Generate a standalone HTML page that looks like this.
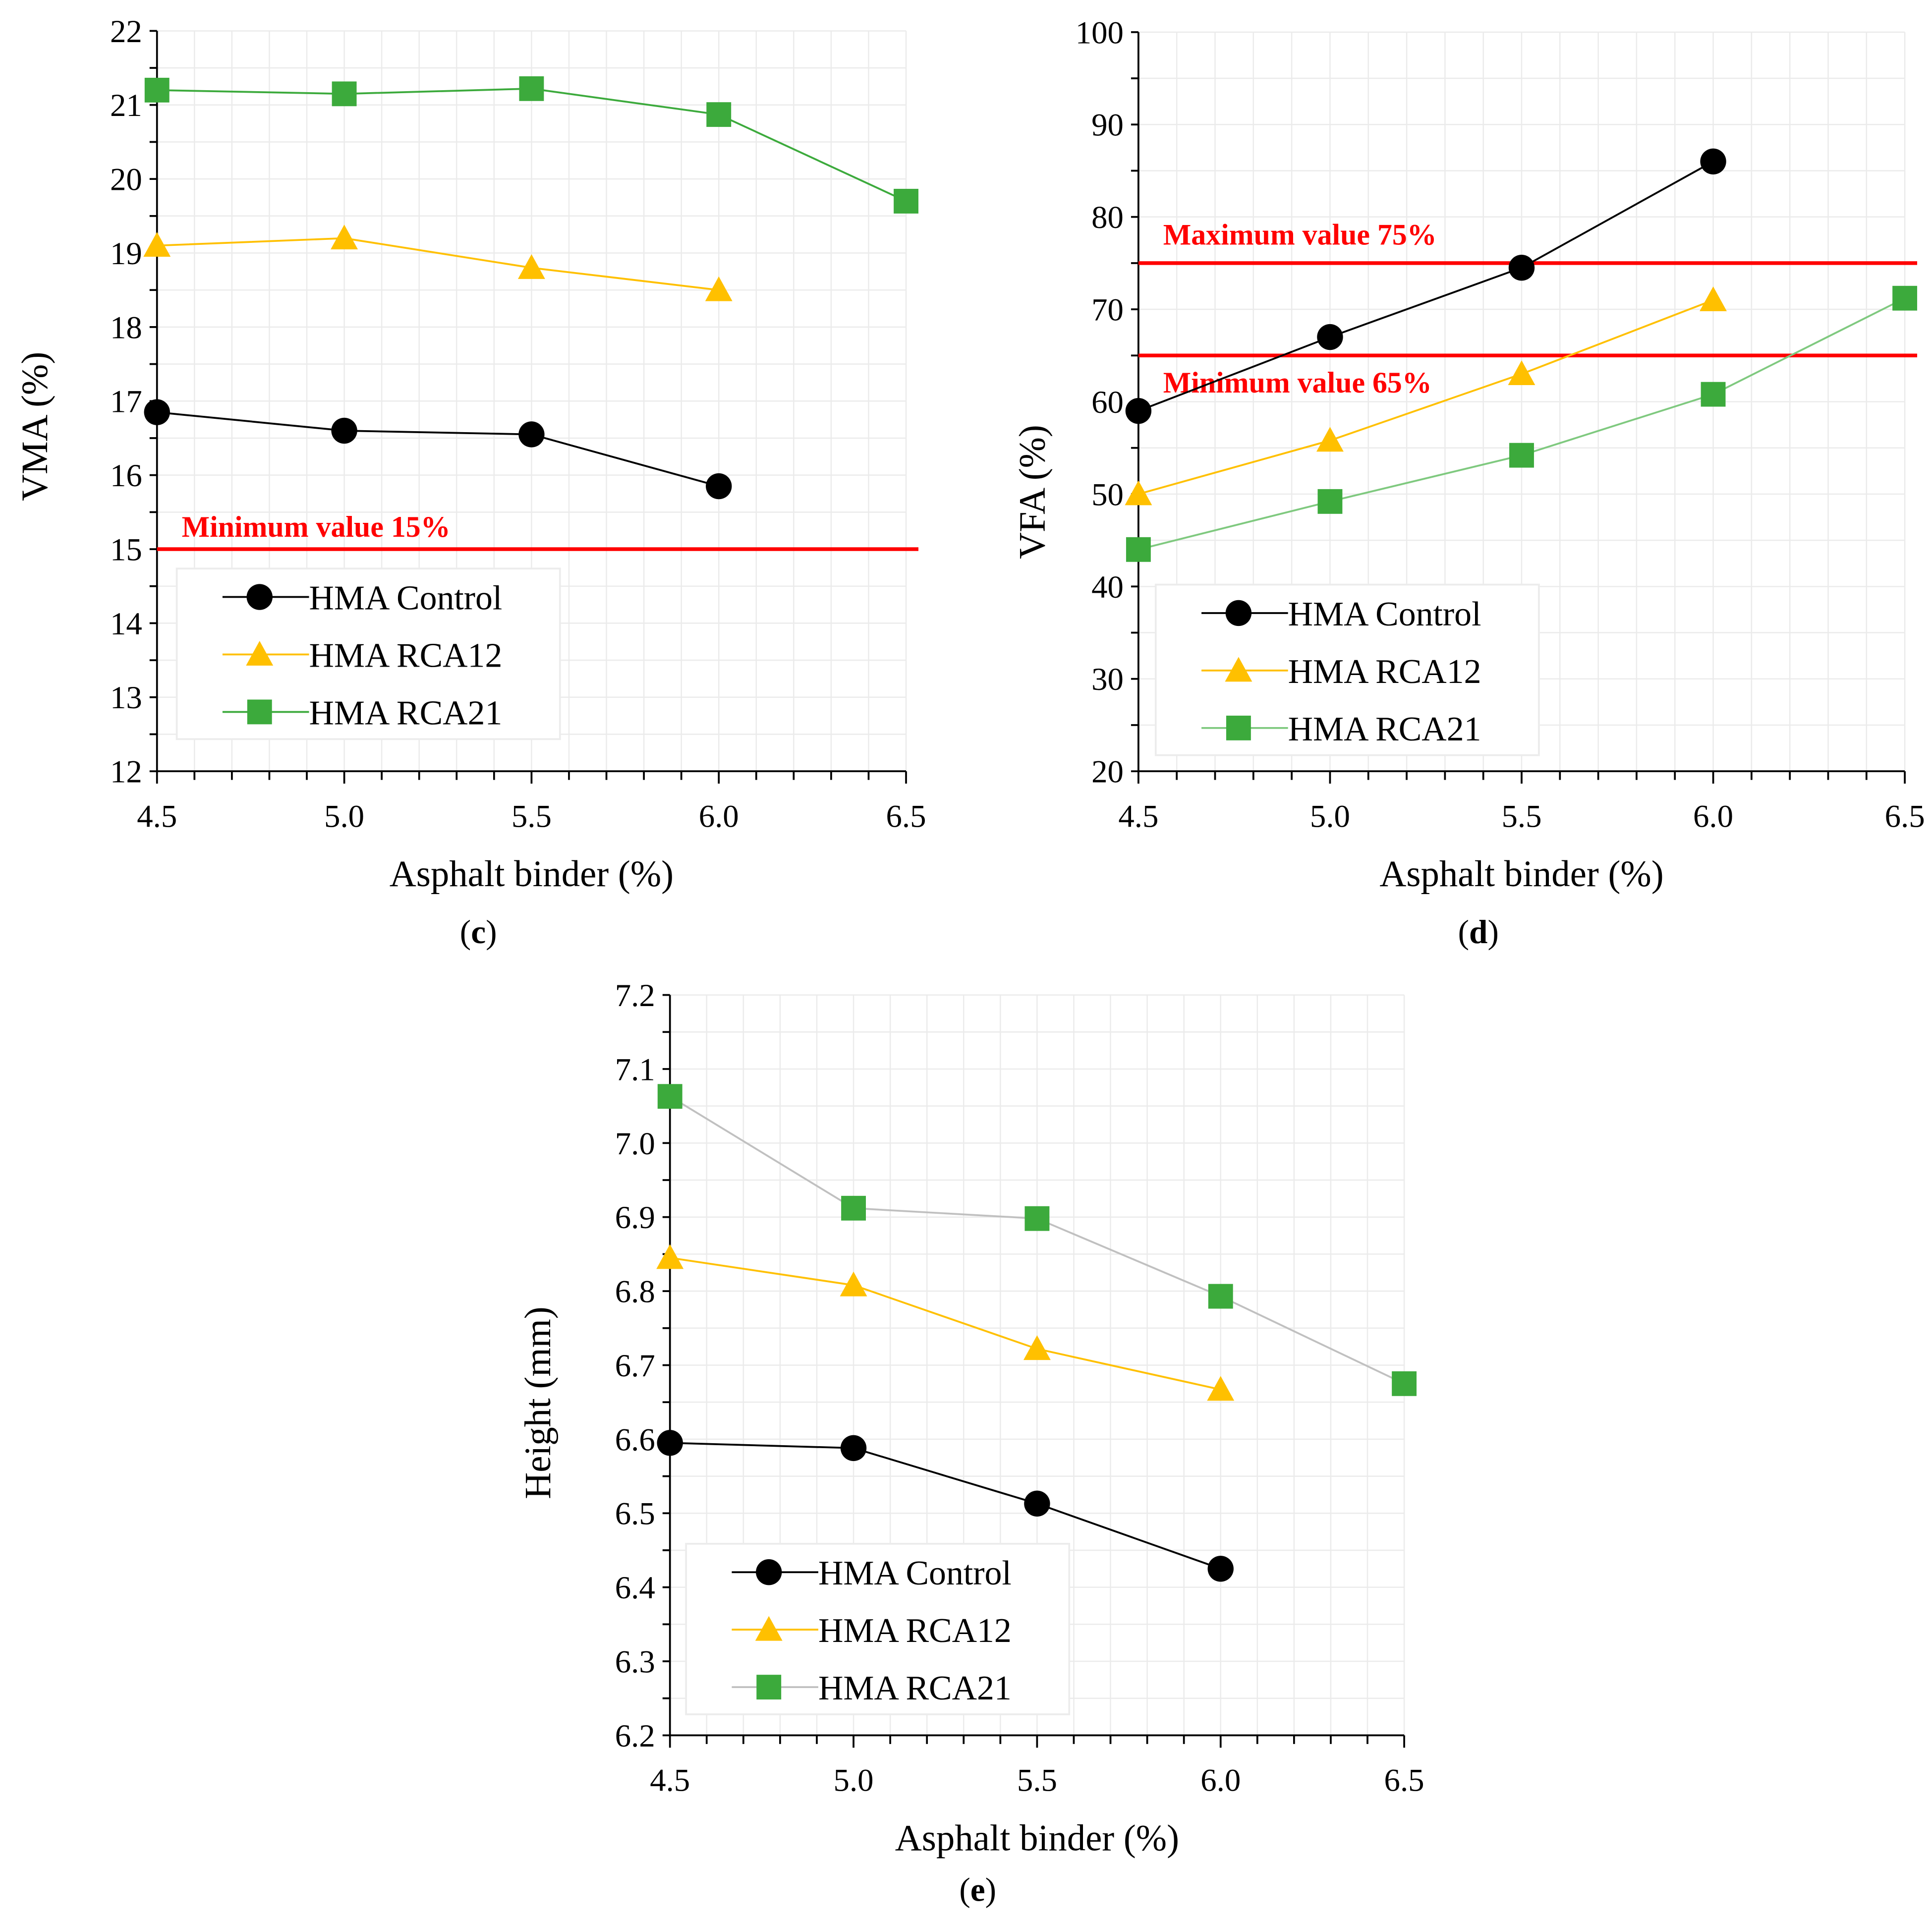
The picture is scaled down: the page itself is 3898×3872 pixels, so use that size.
<!DOCTYPE html>
<html><head><meta charset="utf-8"><style>
html,body{margin:0;padding:0;background:#fff}
svg{display:block}
text{font-family:"Liberation Serif",serif}
</style></head><body>
<svg id="fig" width="3898" height="3872" viewBox="0 0 1563 1552.6" xmlns="http://www.w3.org/2000/svg"></svg>
<script>
const xCats=[4.5,5.0,5.5,6.0,6.5];
const xTickLabels=["4.5","5.0","5.5","6.0","6.5"];
const cControl=[16.85,16.6,16.55,15.85];
const cRCA12=[19.1,19.2,18.8,18.5];
const cRCA21=[21.2,21.15,21.22,20.87,19.7];
const cYTicks=[12,13,14,15,16,17,18,19,20,21,22];
const cLimits=[15];
const dControl=[59,67,74.5,86];
const dRCA12=[50,55.8,63,71];
const dRCA21=[44,49.2,54.2,60.8,71.2];
const dYTicks=[20,30,40,50,60,70,80,90,100];
const dLimits=[75,65];
const eControl=[6.595,6.588,6.513,6.425];
const eRCA12=[6.845,6.808,6.722,6.667];
const eRCA21=[7.063,6.912,6.898,6.793,6.675];
const eYTicks=[6.2,6.3,6.4,6.5,6.6,6.7,6.8,6.9,7.0,7.1,7.2];

const NS="http://www.w3.org/2000/svg";
const svg=document.getElementById('fig');
function mk(tag,attrs,parent,txt){const e=document.createElementNS(NS,tag);for(const k in attrs)e.setAttribute(k,attrs[k]);if(txt!==undefined)e.textContent=txt;(parent||svg).appendChild(e);return e;}

function chart(cfg){
  const g=mk('g',{});
  
  
  const ymin=cfg.yt[0],ymax=cfg.yt[cfg.yt.length-1];
  const X=v=>cfg.x0+(v-4.5)/2*(cfg.x1-cfg.x0);
  const Y=v=>cfg.y1+(v-ymin)/(ymax-ymin)*(cfg.y0-cfg.y1);
  const grid=mk('g',{stroke:'#ebebeb','stroke-width':1},g);
  
  
  for(let i=1;i<=20;i++){const x=cfg.x0+i*(cfg.x1-cfg.x0)/20;mk('line',{x1:x,x2:x,y1:cfg.y0,y2:cfg.y1},grid);}
  const ns=(cfg.yt.length-1)*2;
  for(let i=1;i<=ns;i++){const y=cfg.y1-i*(cfg.y1-cfg.y0)/ns;mk('line',{x1:cfg.x0,x2:cfg.x1,y1:y,y2:y},grid);}
  const ax=mk('g',{stroke:'#000','stroke-width':1.5},g);
  
  
  mk('line',{x1:cfg.x0,x2:cfg.x0,y1:cfg.y0,y2:cfg.y1},ax);
  mk('line',{x1:cfg.x0,x2:cfg.x1,y1:cfg.y1,y2:cfg.y1},ax);
  for(let i=0;i<=ns;i++){const y=cfg.y1-i*(cfg.y1-cfg.y0)/ns;mk('line',{x1:cfg.x0-6,x2:cfg.x0,y1:y,y2:y},ax);}
  for(let i=0;i<=20;i++){const x=cfg.x0+i*(cfg.x1-cfg.x0)/20;mk('line',{x1:x,x2:x,y1:cfg.y1,y2:cfg.y1+(i%5==0?10:7)},ax);}
  cfg.yt.forEach(v=>{const t=mk('text',{x:cfg.x0-12,y:Y(v)+9,'text-anchor':'end','font-size':26},g,cfg.fmt(v));
    
    });
  xCats.forEach((v,i)=>{const t=mk('text',{x:X(v),y:cfg.y1+45,'text-anchor':'middle','font-size':26},g,xTickLabels[i]);
    
    });
  let t=mk('text',{x:cfg.xtx,y:cfg.y1+93,'text-anchor':'middle','font-size':30},g,'Asphalt binder (%)');
  
  
  t=mk('text',{x:0,y:0,'text-anchor':'middle','font-size':30,transform:`translate(${cfg.ytx},${cfg.yty}) rotate(-90)`},g,cfg.ytitle);
  
  
  t=mk('text',{x:cfg.lx,y:cfg.ly,'text-anchor':'middle','font-size':27},g);
  mk('tspan',{},t,'(');mk('tspan',{'font-weight':'bold'},t,cfg.label);mk('tspan',{},t,')');
  
  
  (cfg.limits||[]).forEach((v,i)=>{
    const l=mk('line',{x1:cfg.x0,x2:cfg.x1+10,y1:Y(v),y2:Y(v),stroke:'#ff0000','stroke-width':3},g);
    
    
    const lt=mk('text',{x:cfg.x0+20,y:Y(v)+cfg.limOff[i],'font-size':24,'font-weight':'bold',fill:'#ff0000'},g,cfg.limText[i]);
    
    
  });
  const lb=mk('rect',{x:cfg.leg[0],y:cfg.leg[1],width:310,height:138,fill:'#fff',stroke:'#ececec','stroke-width':1.5},g);
  
  
  const series=[
    {d:cfg.s[0],c:'#000',m:'circle',n:'HMA Control'},
    {d:cfg.s[1],c:'#ffc000',m:'tri',n:'HMA RCA12'},
    {d:cfg.s[2],c:cfg.c21,m:'sq',n:'HMA RCA21'}];
  function marker(m,x,y,parent){
    if(m=='circle')return mk('circle',{cx:x,cy:y,r:10.5,fill:'#000'},parent);
    if(m=='tri')return mk('polygon',{points:`${x},${y-11} ${x+11},${y+9} ${x-11},${y+9}`,fill:'#ffc000'},parent);
    return mk('rect',{x:x-10,y:y-10,width:20,height:20,fill:'#3caa3c'},parent);
  }
  series.forEach((s,k)=>{
    const sg=mk('g',{},g);
    
    
    mk('polyline',{points:s.d.map((v,i)=>X(xCats[i])+','+Y(v)).join(' '),fill:'none',stroke:s.c,'stroke-width':1.5},sg);
    s.d.forEach((v,i)=>{const mm=marker(s.m,X(xCats[i]),Y(v),sg);
      
      });
    const ly=cfg.leg[1]+23+k*46.5;
    const eg=mk('g',{},g);
    
    
    mk('line',{x1:cfg.leg[0]+37,x2:cfg.leg[0]+107,y1:ly,y2:ly,stroke:s.c,'stroke-width':1.5},eg);
    marker(s.m,cfg.leg[0]+67,ly,eg);
    mk('text',{x:cfg.leg[0]+107,y:ly+10,'font-size':28},eg,s.n);
  });
}
chart({name:'chart-vma',x0:127,x1:733,y0:25,y1:624,yt:cYTicks,fmt:v=>String(v),s:[cControl,cRCA12,cRCA21],c21:'#3caa3c',
  xtx:430,ytx:38,yty:345,ytitle:'VMA (%)',lx:387,ly:763,label:'c',limits:cLimits,limOff:[-10],limText:['Minimum value 15%'],leg:[143,460]});
chart({name:'chart-vfa',x0:921,x1:1541,y0:26,y1:624,yt:dYTicks,fmt:v=>String(v),s:[dControl,dRCA12,dRCA21],c21:'#7fc97f',
  xtx:1231,ytx:845,yty:398,ytitle:'VFA (%)',lx:1196,ly:763,label:'d',limits:dLimits,limOff:[-15,30],limText:['Maximum value 75%','Minimum value 65%'],leg:[935,473]});
chart({name:'chart-height',x0:542,x1:1136,y0:805,y1:1404,yt:eYTicks,fmt:v=>v.toFixed(1),s:[eControl,eRCA12,eRCA21],c21:'#c0c0c0',
  xtx:839,ytx:445,yty:1135,ytitle:'Height (mm)',lx:791,ly:1538,label:'e',leg:[555,1249]});
</script>
</body></html>
